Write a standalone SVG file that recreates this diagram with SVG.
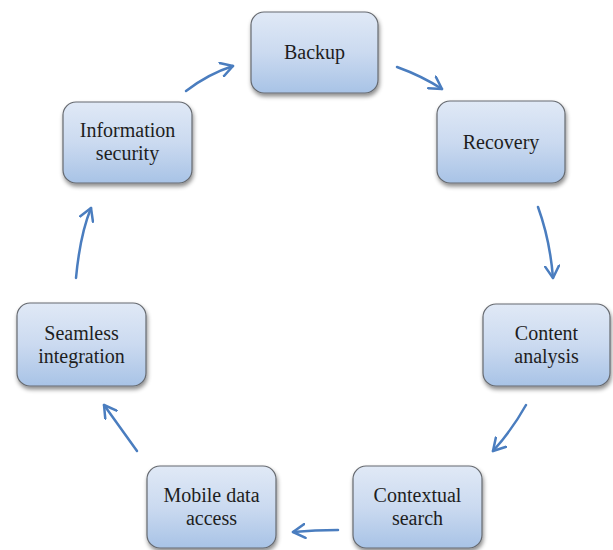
<svg xmlns="http://www.w3.org/2000/svg" width="613" height="550" viewBox="0 0 613 550">
<style>
.box{fill:url(#g);stroke:#666a70;stroke-width:1.2;filter:url(#sh)}
.t{font-family:"Liberation Serif","Times New Roman",serif;font-size:20px;fill:#1e1e1e;text-anchor:middle}
.c{fill:none;stroke:#4a7dbf;stroke-width:2.5;stroke-linecap:round;marker-end:url(#ah)}
</style>
<defs>
<linearGradient id="g" x1="0" y1="0" x2="0" y2="1">
<stop offset="0" stop-color="#e0e9f6"/>
<stop offset="0.5" stop-color="#cbdaf0"/>
<stop offset="1" stop-color="#a8c3e6"/>
</linearGradient>
<filter id="sh" x="-10%" y="-10%" width="125%" height="130%">
<feDropShadow dx="1" dy="3" stdDeviation="2" flood-color="#000" flood-opacity="0.45"/>
</filter>
<marker id="ah" markerUnits="userSpaceOnUse" markerWidth="16" markerHeight="16" refX="13" refY="8" orient="auto" viewBox="0 0 16 16">
<path d="M1,1 L13,8 L1,15" fill="none" stroke="#4a7dbf" stroke-width="2.5" stroke-linecap="round" stroke-linejoin="round"/>
</marker>
</defs>
<g id="connectors">
<path class="c" d="M186,91 Q208,74 233,66"/>
<path class="c" d="M397,67 Q422,76 442,89"/>
<path class="c" d="M538,207 Q550,240 553,278"/>
<path class="c" d="M526,405 Q512,430 493,451"/>
<path class="c" d="M338,530 Q315,530 293,532"/>
<path class="c" d="M137,451 L104,405"/>
<path class="c" d="M76,278 Q80,235 91,208"/>
</g>
<g id="backup">
<rect class="box" x="251" y="12" width="127" height="81" rx="13"/>
<text class="t" x="314.5" y="59">Backup</text>
</g>
<g id="recovery">
<rect class="box" x="437" y="101" width="128" height="82" rx="13"/>
<text class="t" x="501" y="149">Recovery</text>
</g>
<g id="content-analysis">
<rect class="box" x="483" y="304" width="127" height="82" rx="13"/>
<text class="t" x="546.5" y="340">Content</text>
<text class="t" x="546.5" y="363">analysis</text>
</g>
<g id="contextual-search">
<rect class="box" x="353" y="466" width="129" height="82" rx="13"/>
<text class="t" x="417.5" y="502">Contextual</text>
<text class="t" x="417.5" y="525">search</text>
</g>
<g id="mobile-data-access">
<rect class="box" x="147" y="466" width="129" height="82" rx="13"/>
<text class="t" x="211.5" y="502">Mobile data</text>
<text class="t" x="211.5" y="525">access</text>
</g>
<g id="seamless-integration">
<rect class="box" x="17" y="303" width="129" height="83" rx="13"/>
<text class="t" x="81.5" y="340">Seamless</text>
<text class="t" x="81.5" y="363">integration</text>
</g>
<g id="information-security">
<rect class="box" x="63" y="102" width="129" height="81" rx="13"/>
<text class="t" x="127.5" y="137">Information</text>
<text class="t" x="127.5" y="160">security</text>
</g>
</svg>
